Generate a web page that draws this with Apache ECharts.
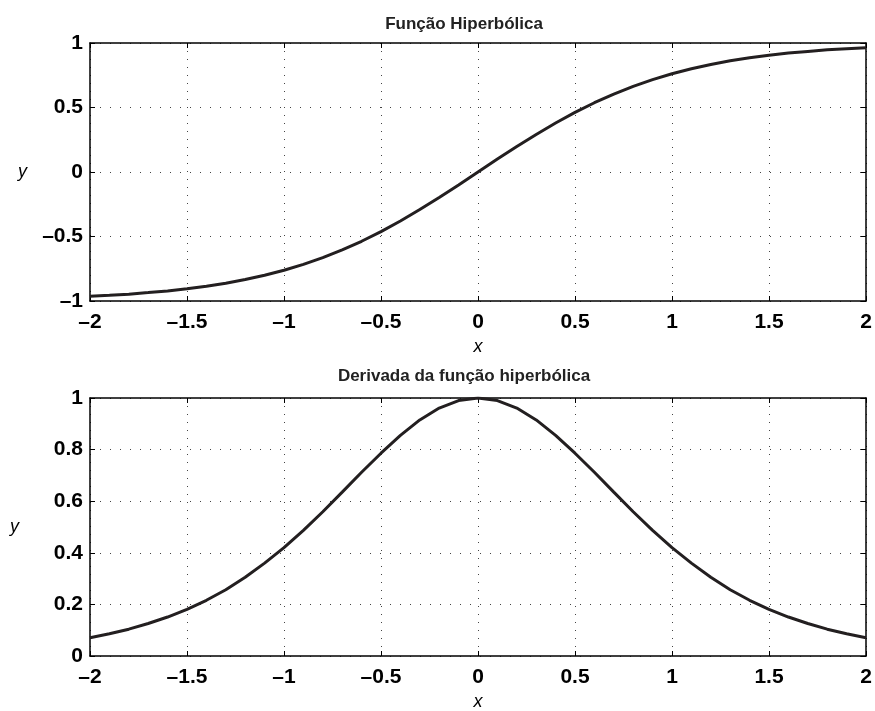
<!DOCTYPE html>
<html>
<head>
<meta charset="utf-8">
<script src="https://cdn.jsdelivr.net/npm/echarts@6/dist/echarts.min.js"></script>
<style>
  html, body { margin: 0; padding: 0; background: #fff; }
  #chart { width: 875px; height: 711px; }
</style>
</head>
<body>
<div id="chart"></div>
<script>
// Sample points along x (step 0.1)
const xValues = [-2.0, -1.9, -1.8, -1.7, -1.6, -1.5, -1.4, -1.3, -1.2, -1.1, -1.0,
                 -0.9, -0.8, -0.7, -0.6, -0.5, -0.4, -0.3, -0.2, -0.1, 0.0,
                  0.1, 0.2, 0.3, 0.4, 0.5, 0.6, 0.7, 0.8, 0.9, 1.0,
                  1.1, 1.2, 1.3, 1.4, 1.5, 1.6, 1.7, 1.8, 1.9, 2.0];

// Hyperbolic function values
const tanhValues = [-0.964, -0.956, -0.947, -0.935, -0.922, -0.905, -0.885, -0.862, -0.834, -0.800, -0.762,
                    -0.716, -0.664, -0.604, -0.537, -0.462, -0.380, -0.291, -0.197, -0.100, 0.000,
                     0.100, 0.197, 0.291, 0.380, 0.462, 0.537, 0.604, 0.664, 0.716, 0.762,
                     0.800, 0.834, 0.862, 0.885, 0.905, 0.922, 0.935, 0.947, 0.956, 0.964];

// Derivative values
const derivValues = [0.071, 0.086, 0.104, 0.126, 0.151, 0.181, 0.216, 0.257, 0.305, 0.360, 0.420,
                     0.487, 0.559, 0.635, 0.712, 0.786, 0.855, 0.915, 0.961, 0.990, 1.000,
                     0.990, 0.961, 0.915, 0.855, 0.786, 0.712, 0.635, 0.559, 0.487, 0.420,
                     0.360, 0.305, 0.257, 0.216, 0.181, 0.151, 0.126, 0.104, 0.086, 0.071];

const titles = ['Função Hiperbólica', 'Derivada da função hiperbólica'];
const xName = 'x';
const yName = 'y';

const FONT = 'Liberation Sans, Arial, sans-serif';
const INK = '#000';
const CURVE = '#231f20';

const fmt = v => String(+v.toFixed(2)).replace('-', '\u2013');

const tickLabel = {
  fontFamily: FONT, fontWeight: 'bold', fontSize: 21, color: INK, formatter: fmt
};
const vGrid = { show: true, lineStyle: { color: '#444', width: 1, type: [1, 7] } };
const hGrid = { show: true, lineStyle: { color: '#444', width: 1, type: [1, 9] } };
const frameLine = { show: true, onZero: false, lineStyle: { color: INK, width: 1.5 } };
const inTick = { show: true, inside: true, length: 5, lineStyle: { color: INK, width: 1 } };
const nameStyle = { fontFamily: FONT, fontStyle: 'italic', fontSize: 18, color: INK };

function xAxes(gi) {
  return [
    {
      type: 'value', gridIndex: gi, min: -2, max: 2, interval: 0.5, position: 'bottom',
      axisLine: frameLine, axisTick: inTick, splitLine: vGrid,
      axisLabel: Object.assign({ margin: 11 }, tickLabel),
      name: xName, nameLocation: 'middle', nameGap: 37, nameMoveOverlap: false,
      nameTextStyle: nameStyle
    },
    {
      type: 'value', gridIndex: gi, min: -2, max: 2, interval: 0.5, position: 'top',
      axisLine: frameLine, axisTick: inTick, splitLine: { show: false },
      axisLabel: { show: false }
    }
  ];
}

function yAxes(gi, min, max, interval, nameGap) {
  return [
    {
      type: 'value', gridIndex: gi, min: min, max: max, interval: interval, position: 'left',
      axisLine: frameLine, axisTick: inTick, splitLine: hGrid,
      axisLabel: Object.assign({ margin: 7 }, tickLabel),
      name: yName, nameLocation: 'middle', nameGap: nameGap, nameRotate: 0,
      nameMoveOverlap: false, nameTextStyle: nameStyle
    },
    {
      type: 'value', gridIndex: gi, min: min, max: max, interval: interval, position: 'right',
      axisLine: frameLine, axisTick: inTick, splitLine: { show: false },
      axisLabel: { show: false }
    }
  ];
}

const pairs = vals => xValues.map((x, i) => [x, vals[i]]);

const titleStyle = { fontFamily: FONT, fontWeight: 'bold', fontSize: 17, color: '#222' };

const chart = echarts.init(document.getElementById('chart'), null, { renderer: 'canvas' });
chart.setOption({
  animation: false,
  backgroundColor: '#fff',
  title: [
    { text: titles[0], left: 459, top: 11, textAlign: 'center', textStyle: titleStyle },
    { text: titles[1], left: 459, top: 363, textAlign: 'center', textStyle: titleStyle }
  ],
  grid: [
    { left: 90, right: 9, top: 43, height: 258, outerBoundsMode: 'none', containLabel: false },
    { left: 90, right: 9, top: 398, height: 258, outerBoundsMode: 'none', containLabel: false }
  ],
  xAxis: [...xAxes(0), ...xAxes(1)],
  yAxis: [...yAxes(0, -1, 1, 0.5, 63), ...yAxes(1, 0, 1, 0.2, 71)],
  series: [
    { type: 'line', xAxisIndex: 0, yAxisIndex: 0, data: pairs(tanhValues),
      showSymbol: false, lineStyle: { color: CURVE, width: 3 } },
    { type: 'line', xAxisIndex: 2, yAxisIndex: 2, data: pairs(derivValues),
      showSymbol: false, lineStyle: { color: CURVE, width: 3 } }
  ]
});
</script>
</body>
</html>
